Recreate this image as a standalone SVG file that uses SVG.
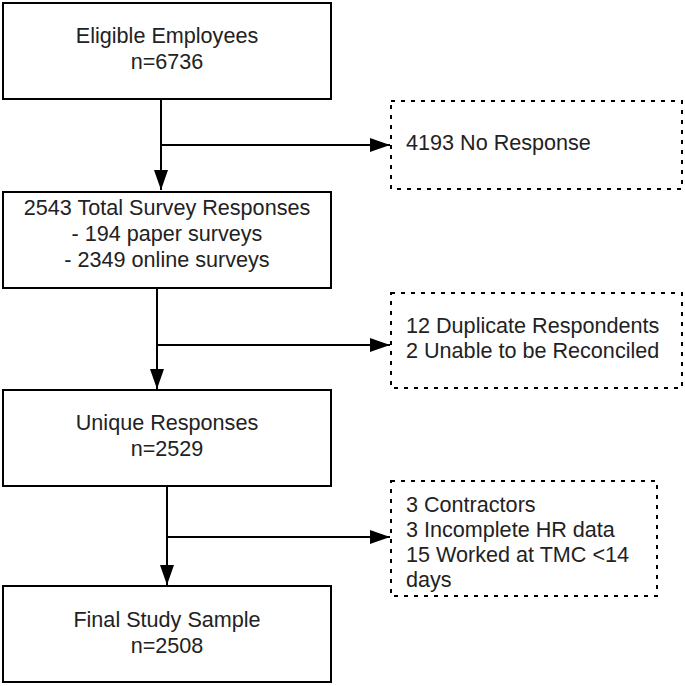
<svg xmlns="http://www.w3.org/2000/svg" width="685" height="686" viewBox="0 0 685 686">
<defs>
<marker id="ah" viewBox="0 0 20 14" refX="20" refY="7" markerWidth="20" markerHeight="14" markerUnits="userSpaceOnUse" orient="auto">
<path d="M0,0 L20,7 L0,14 Z" fill="#000"/>
</marker>
</defs>
<style>
.box{fill:#fff;stroke:#000;stroke-width:2}
.dbox{fill:#fff;stroke:#000;stroke-width:2;stroke-dasharray:4 6}
.t{font-family:"Liberation Sans",Arial,sans-serif;font-size:21.6px;fill:#222}
.c{text-anchor:middle}
.line{fill:none;stroke:#000;stroke-width:2}
</style>
<rect width="685" height="686" fill="#fff"/>
<g id="connectors">
<path class="line" d="M161,99 V190" marker-end="url(#ah)"/>
<path class="line" d="M161,145 H390" marker-end="url(#ah)"/>
<path class="line" d="M157,288 V389" marker-end="url(#ah)"/>
<path class="line" d="M157,345 H390" marker-end="url(#ah)"/>
<path class="line" d="M167,486 V585" marker-end="url(#ah)"/>
<path class="line" d="M167,537 H390" marker-end="url(#ah)"/>
</g>
<g id="eligible">
<rect class="box" x="3" y="3" width="328" height="96"/>
<text class="t c" x="167" y="43">Eligible Employees</text>
<text class="t c" x="167" y="69">n=6736</text>
</g>
<g id="noresponse">
<rect class="dbox" x="391" y="101" width="291" height="88"/>
<text class="t" x="406" y="150">4193 No Response</text>
</g>
<g id="total">
<rect class="box" x="3" y="192" width="328" height="96"/>
<text class="t c" x="167" y="215">2543 Total Survey Responses</text>
<text class="t c" x="167" y="241">- 194 paper surveys</text>
<text class="t c" x="167" y="267">- 2349 online surveys</text>
</g>
<g id="duplicates">
<rect class="dbox" x="391" y="293" width="291" height="95"/>
<text class="t" x="406" y="333">12 Duplicate Respondents</text>
<text class="t" x="406" y="358">2 Unable to be Reconciled</text>
</g>
<g id="unique">
<rect class="box" x="3" y="390" width="328" height="96"/>
<text class="t c" x="167" y="430">Unique Responses</text>
<text class="t c" x="167" y="456">n=2529</text>
</g>
<g id="exclusions">
<rect class="dbox" x="391" y="481" width="266" height="115"/>
<text class="t" x="406" y="512">3 Contractors</text>
<text class="t" x="406" y="537">3 Incomplete HR data</text>
<text class="t" x="406" y="562">15 Worked at TMC &lt;14</text>
<text class="t" x="406" y="587">days</text>
</g>
<g id="final">
<rect class="box" x="3" y="586" width="328" height="96"/>
<text class="t c" x="167" y="627">Final Study Sample</text>
<text class="t c" x="167" y="653">n=2508</text>
</g>
</svg>
